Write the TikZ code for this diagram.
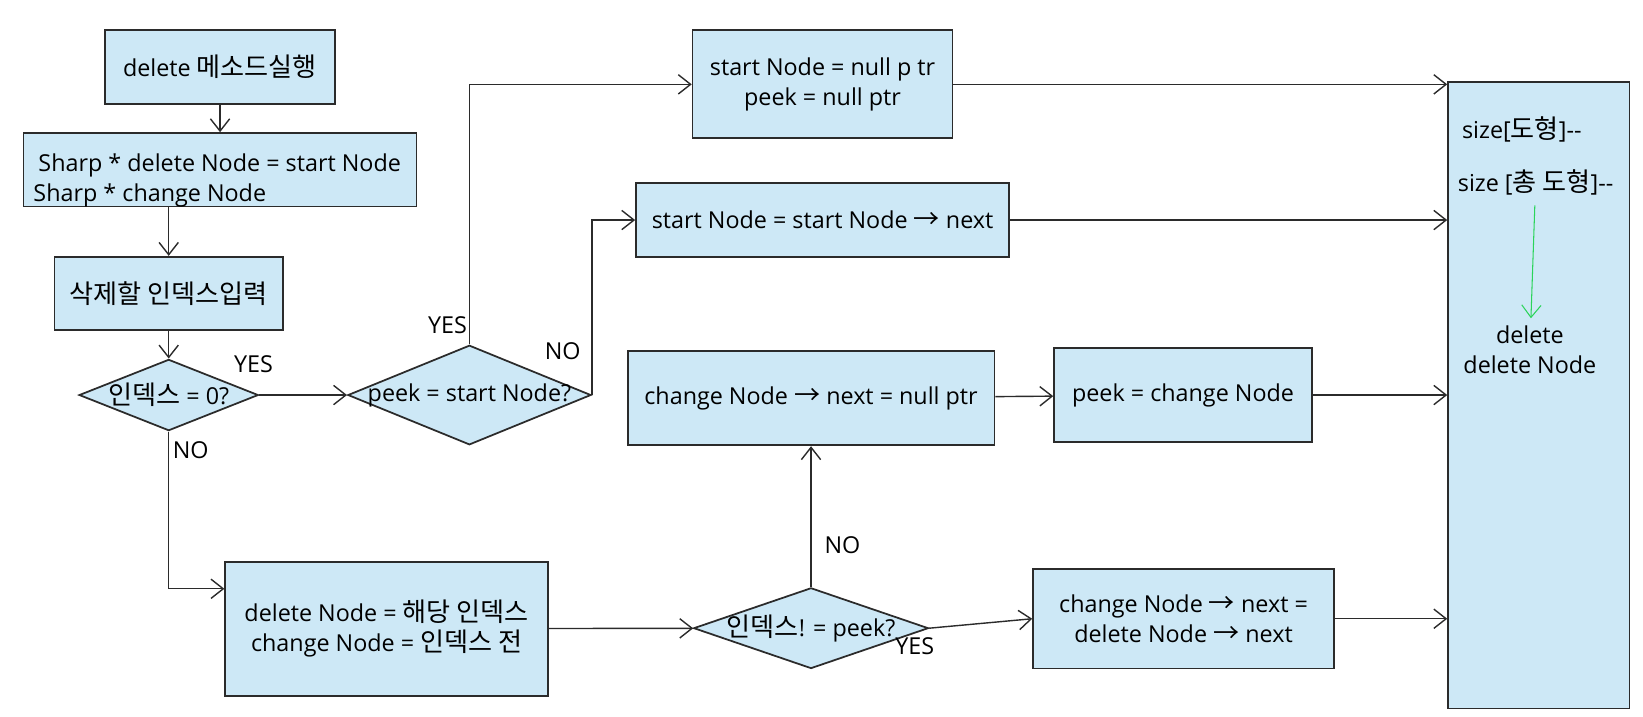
\documentclass[tikz,border=0pt]{standalone}
\usepackage{fontspec}
\setmainfont{Open Sans}
\newfontfamily\ko[Scale=1.12]{Noto Sans CJK KR}
\usetikzlibrary{arrows.meta,positioning,shapes.geometric}
\definecolor{boxfill}{HTML}{CDE8F6}
\definecolor{boxline}{HTML}{2B2B2B}
\definecolor{okgreen}{HTML}{2BD45A}
\tikzset{
  flowbox/.style={
    rectangle, draw=boxline, fill=boxfill, line width=1pt,
    font=\fontsize{13.3}{17}\selectfont, align=center, inner sep=0pt
  },
  decision/.style={
    diamond, draw=boxline, fill=boxfill, line width=1pt,
    font=\fontsize{13.3}{17}\selectfont, inner sep=0pt
  },
  flowarrow/.style={
    -{Straight Barb[length=7pt,width=11pt]}, line width=0.8pt, color=boxline
  },
  answer/.style={
    font=\fontsize{13.3}{15}\selectfont, inner sep=1pt
  },
  boxtext/.style={
    font=\fontsize{13.3}{17}\selectfont, inner sep=0pt
  },
}

\begin{document}
\begin{tikzpicture}[x=0.021cm, y=-0.021cm]
  \useasboundingbox (0,0) rectangle (1568,684);

  % left column
  \node[flowbox, minimum width=4.62cm, minimum height=1.47cm] (run) at (210,64) {delete {\ko 메소드실행}};
  \node[flowbox, minimum width=7.875cm, minimum height=1.47cm] (init) at (210,162) {};
  \node[boxtext, align=left, anchor=west] (inittxt) at ([xshift=0.21cm, yshift=-0.22cm]init.west)
    {\hspace{0.1cm}Sharp * delete Node = start Node\\Sharp * change Node};
  \node[flowbox, minimum width=4.578cm, minimum height=1.47cm] (index) at (161,280) {{\ko 삭제할 인덱스입력}};
  \node[decision, minimum width=3.591cm, minimum height=1.428cm] (iszero) at (161,377)
    {\makebox[0pt]{{\ko 인덱스} = 0?}};

  % peek check
  \node[decision, minimum width=4.872cm, minimum height=1.995cm] (ispeek) at (448,377)
    {\makebox[0pt]{peek = start Node?}};
  \node[flowbox, minimum width=5.208cm, minimum height=2.163cm] (clear) at (785,80.5)
    {start Node = null p tr\\peek = null ptr};
  \node[flowbox, minimum width=7.476cm, minimum height=1.47cm] (advance) at (785,210)
    {start Node = start Node {\ko →} next};
  \node[flowbox, minimum width=7.35cm, minimum height=1.89cm] (cut) at (774,380)
    {change Node {\ko →} next = null ptr};
  \node[flowbox, minimum width=5.166cm, minimum height=1.89cm] (movepeek) at (1129,377)
    {peek = change Node};

  % lower row
  \node[flowbox, minimum width=6.468cm, minimum height=2.688cm] (pick) at (369,600)
    {delete Node = {\ko 해당 인덱스}\\change Node = {\ko 인덱스 전}};
  \node[decision, minimum width=4.704cm, minimum height=1.617cm] (notpeek) at (774,599.5)
    {\makebox[0pt]{{\ko 인덱스}! = peek?}};
  \node[flowbox, minimum width=6.027cm, minimum height=1.995cm] (relink) at (1129.5,590.5)
    {change Node {\ko →} next =\\delete Node {\ko →} next};

  % final box
  \node[flowbox, minimum width=3.633cm, minimum height=12.558cm] (finish) at (1468.5,377) {};
  \node[boxtext, anchor=west] (sizeone) at (1395,124) {size[{\ko 도형}]-{}-};
  \node[boxtext, anchor=west] (sizeall) at (1391,174) {size [{\ko 총 도형}]-{}-};
  \node[boxtext, align=center] (freenode) at (1460,334) {delete\\delete Node};

  % answers
  \node[answer] (yes1) at (242,348) {YES};
  \node[answer] (no1) at (182,430) {NO};
  \node[answer] (yes2) at (427,310) {YES};
  \node[answer] (no2) at (537,335) {NO};
  \node[answer] (no3) at (804,520) {NO};
  \node[answer] (yes3) at (873,617) {YES};

  % connectors
  \draw[flowarrow] (run) -- (init);
  \draw[flowarrow] (init.south -| index.north) -- (index);
  \draw[flowarrow] (index) -- (iszero);
  \draw[flowarrow] (iszero) -- (ispeek);
  \draw[flowarrow] (ispeek.north) |- (clear);
  \draw[flowarrow] (ispeek.east) |- (advance);
  \draw[flowarrow] (iszero.south) |- ([yshift=0.8cm]pick.west);
  \draw[flowarrow] (pick) -- (notpeek);
  \draw[flowarrow] (notpeek) -- (cut);
  \draw[flowarrow] (notpeek.east) -- (relink.west);
  \draw[flowarrow] (cut) -- (movepeek);
  \draw[flowarrow] (clear) -- (clear -| finish.west);
  \draw[flowarrow] (advance) -- (advance -| finish.west);
  \draw[flowarrow] (movepeek) -- (movepeek -| finish.west);
  \draw[flowarrow] (relink) -- (relink -| finish.west);
  \draw[flowarrow, okgreen, line width=0.6pt, shorten <=0.2cm, shorten >=0.15cm] (sizeall) -- (freenode);
\end{tikzpicture}
\end{document}
